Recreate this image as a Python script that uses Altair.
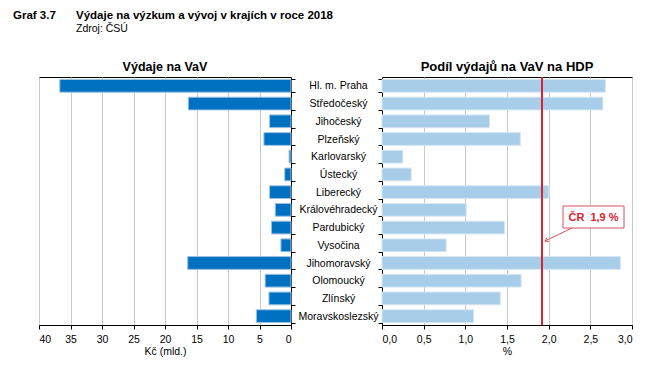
import altair as alt
import pandas as pd

kraje = ["Hl. m. Praha", "Středočeský", "Jihočeský", "Plzeňský", "Karlovarský",
         "Ústecký", "Liberecký", "Královéhradecký", "Pardubický", "Vysočina",
         "Jihomoravský", "Olomoucký", "Zlínský", "Moravskoslezský"]
vydaje = [36.7, 16.3, 3.4, 4.3, 0.3, 1.0, 3.4, 2.5, 3.1, 1.6, 16.4, 4.1, 3.5, 5.5]
podil = [2.68, 2.65, 1.29, 1.66, 0.25, 0.35, 2.00, 1.01, 1.47, 0.77, 2.86, 1.67, 1.42, 1.10]
cr_podil = 1.92
cr_label = "ČR\u00a0\u00a01,9\u00a0%"
left_ticks = [0, 5, 10, 15, 20, 25, 30, 35, 40]
right_ticks = [0.0, 0.5, 1.0, 1.5, 2.0, 2.5, 3.0]
title_graf = "Graf 3.7"
title_main = "Výdaje na výzkum a vývoj v krajích v roce 2018"
title_src = "Zdroj: ČSÚ"
title_left = "Výdaje na VaV"
title_right = "Podíl výdajů na VaV na HDP"

df = pd.DataFrame({"kraj": kraje, "vydaje": vydaje, "podil": podil})
FONT = "Liberation Sans"
yscale = alt.Scale(domain=kraje, paddingInner=0.28, paddingOuter=0.14)


def text_mark(txt, x, y, size, bold=False, align="left", color="black"):
    return alt.Chart(pd.DataFrame({"t": [txt]})).mark_text(
        align=align, baseline="alphabetic", font=FONT, fontSize=size,
        fontWeight="bold" if bold else "normal", color=color
    ).encode(x=alt.value(x), y=alt.value(y), text="t:N")


left_bars = alt.Chart(df).mark_bar(color="#0070C0", stroke="#9CC3E5", strokeWidth=1).encode(
    x=alt.X("vydaje:Q", scale=alt.Scale(domain=[0, 40], reverse=True, nice=False),
            axis=alt.Axis(values=left_ticks, format="d", title="Kč (mld.)", grid=True)),
    y=alt.Y("kraj:N", scale=yscale, sort=kraje,
            axis=alt.Axis(orient="right", labels=False, title=None, tickBand="extent",
                          ticks=True, tickSize=4, grid=False)),
)

left = alt.layer(
    left_bars,
    text_mark(title_graf, -26, -58, 11.5, bold=True),
    text_mark(title_main, 37, -58, 11.5, bold=True),
    text_mark(title_src, 37, -45, 10.5),
    text_mark(title_left, 126, -6, 12.5, bold=True, align="center"),
).properties(width=252, height=248)

right_bars = alt.Chart(df).mark_bar(color="#A7CDE9", stroke="#D6E7F4", strokeWidth=1).encode(
    x=alt.X("podil:Q", scale=alt.Scale(domain=[0, 3], nice=False),
            axis=alt.Axis(values=right_ticks, title="%", grid=True,
                          labelExpr="replace(format(datum.value, '.1f'), '.', ',')")),
    y=alt.Y("kraj:N", scale=yscale, sort=kraje,
            axis=alt.Axis(orient="left", labelAlign="center", labelPadding=40, title=None,
                          tickBand="extent", ticks=True, tickSize=4, grid=False,
                          labelFontSize=10.5)),
)
rule = alt.Chart(pd.DataFrame({"v": [cr_podil]})).mark_rule(color="#D9232E", strokeWidth=2).encode(
    x="v:Q")

ann_df = pd.DataFrame({"t": [cr_label]})
box = alt.Chart(ann_df).mark_rect(fill="white", stroke="#D9505E", strokeWidth=1).encode(
    x=alt.value(181), x2=alt.value(242), y=alt.value(129), y2=alt.value(151))
box_text = alt.Chart(ann_df).mark_text(
    font=FONT, fontSize=11, fontWeight="bold", color="#D9232E", align="center", baseline="middle"
).encode(x=alt.value(211.5), y=alt.value(140.5), text="t:N")
arrow_line = alt.Chart(ann_df).mark_rule(color="#D9505E", strokeWidth=1).encode(
    x=alt.value(190), y=alt.value(151), x2=alt.value(163), y2=alt.value(164))
arrow_head = alt.Chart(ann_df).mark_point(
    shape="M -1 -0.7 L 0 0 L -1 0.7", filled=False, stroke="#D9505E", strokeWidth=1,
    size=40, angle=154, opacity=1
).encode(x=alt.value(163), y=alt.value(164))

right = alt.layer(
    right_bars, rule, box, box_text, arrow_line, arrow_head,
    text_mark(title_right, 125, -6, 13, bold=True, align="center"),
).properties(width=250, height=248)

chart = alt.hconcat(left, right, spacing=91, bounds="flush").properties(
    padding={"left": 4, "top": 1, "right": 5, "bottom": 5}
).configure_view(stroke="black", strokeWidth=1).configure_axis(
    labelFont=FONT, labelFontSize=10.5, labelColor="black", titleFont=FONT, titleFontSize=10.5,
    titleFontWeight="normal", titleColor="black", tickColor="black", domainColor="black",
    gridColor="#C8C8C8", labelPadding=5, titlePadding=2, tickSize=4
)

chart.save("out.html", embed_options={"renderer": "svg", "actions": False})
